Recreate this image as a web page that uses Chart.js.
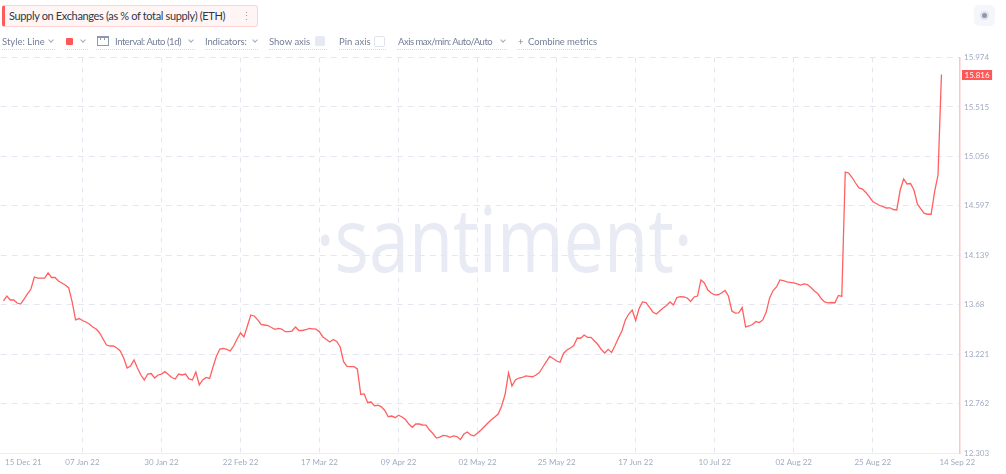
<!DOCTYPE html>
<html>
<head>
<meta charset="utf-8">
<script src="https://cdn.jsdelivr.net/npm/chart.js@4.4.1/dist/chart.umd.min.js"></script>
<style>
  html, body { margin: 0; padding: 0; background: #ffffff; }
  body { width: 1006px; height: 474px; position: relative; overflow: hidden; font-family: 'Lato', sans-serif; }
  #wm { position: absolute; left: 0; width: 1006px; top: 192px; text-align: center; font-family: 'Open Sans', sans-serif; font-weight: 400; font-size: 90px; line-height: 1; color: #e8ebf4; transform: scaleX(0.8); transform-origin: 509px 0; white-space: nowrap; }
  #chartWrap { position: absolute; left: 0; top: 0; width: 1006px; height: 474px; }
  .title { position: absolute; left: 2px; top: 5px; width: 248px; height: 20px; border: 1px solid #ffd3d3; border-left: 3px solid #ff5b5b; border-radius: 3px; background: #fff5f5; font-size: 11px; letter-spacing: -0.35px; line-height: 20px; color: #2f3747; padding-left: 4px; box-sizing: content-box; white-space: nowrap; }
  .dots { position: absolute; left: 236px; top: 0; color: #9aa3b8; font-size: 11px; letter-spacing: 0; }
  .tb { position: absolute; top: 35px; height: 14px; font-size: 9.5px; line-height: 13px; color: #737d96; white-space: nowrap; }
  .ul { position: absolute; top: 49px; height: 0; border-top: 1px dotted #d4d9e4; }
  .chev { position: absolute; top: 38px; width: 3px; height: 3px; border-right: 1px solid #a3abbf; border-bottom: 1px solid #a3abbf; transform: rotate(45deg); }
  .sq { position: absolute; left: 66px; top: 38px; width: 7px; height: 7px; background: #ff5656; border-radius: 1px; }
  .cal { position: absolute; left: 97px; top: 36px; width: 10px; height: 7px; border: 1px solid #8f99ae; border-top-width: 2px; }
  .cal i { position: absolute; top: -1px; width: 1px; height: 3px; background: #8f99ae; }
  .cb { position: absolute; top: 36px; width: 10px; height: 10px; border-radius: 2px; }
  .icon { position: absolute; left: 974px; top: 5px; width: 21px; height: 21px; border-radius: 5px; background: #f4f6fa; }
  .icon b { position: absolute; left: 6px; top: 6px; width: 9px; height: 9px; border-radius: 50%; background: #dfe3ec; }
  .icon b::after { content: ''; position: absolute; left: 2px; top: 2px; width: 5px; height: 5px; border-radius: 50%; background: #8e98b0; }
</style>
</head>
<body>
<div id="wm">·santiment·</div>
<div id="chartWrap"><canvas id="c" width="1006" height="474"></canvas></div>

<div class="title">Supply on Exchanges (as % of total supply) (ETH)<span class="dots">⋮</span></div>
<div class="icon"><b></b></div>

<div class="tb" style="left:2px">Style: Line</div><div class="chev" style="left:49px"></div>
<div class="ul" style="left:2px;width:53px"></div>
<div class="sq"></div><div class="chev" style="left:81px"></div>
<div class="ul" style="left:65px;width:23px"></div>
<div class="cal"><i style="left:2px"></i><i style="left:6px"></i></div>
<div class="tb" style="left:115px;letter-spacing:-0.45px">Interval: Auto (1d)</div><div class="chev" style="left:189px"></div>
<div class="ul" style="left:96px;width:99px"></div>
<div class="tb" style="left:205px;letter-spacing:-0.15px">Indicators:</div><div class="chev" style="left:253px"></div>
<div class="ul" style="left:205px;width:53px"></div>
<div class="tb" style="left:269px">Show axis</div>
<div class="cb" style="left:315px;background:#e6e9f2"></div>
<div class="ul" style="left:269px;width:58px"></div>
<div class="tb" style="left:339px">Pin axis</div>
<div class="cb" style="left:374px;border:1px solid #dfe3ec;width:9px;height:9px;background:#fff"></div>
<div class="ul" style="left:339px;width:47px"></div>
<div class="tb" style="left:398px;letter-spacing:-0.5px">Axis max/min: Auto/Auto</div><div class="chev" style="left:501px"></div>
<div class="ul" style="left:397px;width:110px"></div>
<div class="tb" style="left:518px;letter-spacing:-0.1px">+&nbsp; Combine metrics</div>
<div class="ul" style="left:517px;width:79px"></div>

<script>
// ---------------- data ----------------
// daily values, 15 Dec 2021 (index 0) .. 14 Sep 2022 (index 273)
const supplyPct = [
  13.714, 13.760, 13.723, 13.723, 13.695, 13.686, 13.732, 13.779, 13.825, 13.937,
  13.927, 13.927, 13.927, 13.974, 13.932, 13.932, 13.899, 13.881, 13.862, 13.835,
  13.705, 13.538, 13.551, 13.533, 13.519, 13.500, 13.473, 13.454, 13.417, 13.361,
  13.305, 13.296, 13.296, 13.278, 13.250, 13.185, 13.092, 13.111, 13.166, 13.092,
  13.027, 12.981, 13.036, 13.041, 12.999, 13.027, 13.036, 13.058, 13.032, 13.004,
  12.990, 13.036, 13.027, 13.036, 12.990, 12.981, 13.055, 12.934, 12.981, 13.004,
  12.995, 13.101, 13.203, 13.268, 13.273, 13.264, 13.250, 13.296, 13.361, 13.417,
  13.380, 13.482, 13.584, 13.575, 13.538, 13.496, 13.491, 13.486, 13.468, 13.451,
  13.459, 13.454, 13.429, 13.429, 13.435, 13.473, 13.440, 13.440, 13.447, 13.460,
  13.456, 13.452, 13.426, 13.380, 13.357, 13.333, 13.357, 13.338, 13.287, 13.150,
  13.106, 13.104, 13.104, 13.083, 12.846, 12.851, 12.772, 12.776, 12.741, 12.746,
  12.732, 12.698, 12.640, 12.646, 12.631, 12.653, 12.637, 12.614, 12.572, 12.542,
  12.572, 12.572, 12.563, 12.561, 12.516, 12.484, 12.442, 12.451, 12.467, 12.461,
  12.449, 12.461, 12.456, 12.428, 12.479, 12.498, 12.470, 12.463, 12.489, 12.516,
  12.549, 12.581, 12.612, 12.637, 12.665, 12.739, 12.846, 13.046, 12.925, 12.981,
  12.999, 13.004, 13.018, 13.015, 13.011, 13.027, 13.050, 13.101, 13.152, 13.199,
  13.180, 13.157, 13.145, 13.227, 13.259, 13.278, 13.301, 13.370, 13.368, 13.398,
  13.377, 13.377, 13.343, 13.310, 13.264, 13.231, 13.265, 13.236, 13.301, 13.370,
  13.435, 13.538, 13.593, 13.630, 13.533, 13.644, 13.705, 13.700, 13.658, 13.612,
  13.593, 13.621, 13.649, 13.672, 13.705, 13.677, 13.746, 13.754, 13.751, 13.742,
  13.709, 13.751, 13.760, 13.909, 13.881, 13.816, 13.788, 13.771, 13.772, 13.788,
  13.811, 13.760, 13.621, 13.602, 13.604, 13.654, 13.473, 13.482, 13.496, 13.523,
  13.514, 13.538, 13.612, 13.742, 13.811, 13.844, 13.909, 13.904, 13.892, 13.887,
  13.883, 13.872, 13.862, 13.872, 13.867, 13.839, 13.807, 13.783, 13.737, 13.705,
  13.697, 13.700, 13.698, 13.765, 13.756, 14.911, 14.902, 14.860, 14.809, 14.763,
  14.753, 14.721, 14.682, 14.637, 14.619, 14.600, 14.589, 14.577, 14.579, 14.563,
  14.559, 14.744, 14.846, 14.800, 14.804, 14.744, 14.614, 14.568, 14.526, 14.519,
  14.519, 14.726, 14.883, 15.816
];
const xTickDays   = [0, 23, 46, 69, 92, 115, 138, 161, 184, 207, 230, 253, 273];
const xTickLabels = ['15 Dec 21', '07 Jan 22', '30 Jan 22', '22 Feb 22', '17 Mar 22', '09 Apr 22',
                     '02 May 22', '25 May 22', '17 Jun 22', '10 Jul 22', '02 Aug 22', '25 Aug 22', '14 Sep 22'];
const yTicks      = [12.303, 12.762, 13.221, 13.68, 14.139, 14.597, 15.056, 15.515, 15.974];
const yTickLabels = ['12.303', '12.762', '13.221', '13.68', '14.139', '14.597', '15.056', '15.515', '15.974'];

// ---------------- styles ----------------
const LINE_COLOR = '#ff6060';
const GRID_COLOR = '#e4e7f0';
const TICK_COLOR = '#a2abc0';
const X_MIN = -0.79, X_MAX = 278.4;
const EDGE_LABEL_SHIFT = [5.8, 4.6]; // edge labels sit inside the axis, as in the app

const lastValueBadge = {
  id: 'lastValueBadge',
  afterDraw(chart) {
    const ys = chart.scales.y;
    const v = supplyPct[supplyPct.length - 1];
    const y = ys.getPixelForValue(v);
    const ctx = chart.ctx;
    ctx.save();
    ctx.font = '8px Lato';
    const txt = v.toFixed(3);
    const w = ctx.measureText(txt).width + 5;
    ctx.fillStyle = '#ff5757';
    ctx.fillRect(ys.left + 2, Math.round(y) - 5, w, 10);
    ctx.fillStyle = '#ffffff';
    ctx.textBaseline = 'middle';
    ctx.fillText(txt, ys.left + 4.5, Math.round(y) + 0.5);
    ctx.restore();
  }
};

Chart.defaults.font.family = 'Lato';

new Chart(document.getElementById('c'), {
  type: 'line',
  data: {
    datasets: [{
      data: supplyPct.map((v, i) => ({ x: i, y: v })),
      borderColor: LINE_COLOR,
      borderWidth: 1.3,
      pointRadius: 0,
      tension: 0,
      fill: false
    }]
  },
  options: {
    responsive: false,
    animation: false,
    parsing: false,
    layout: { padding: { top: 57.5, left: 0, right: 0, bottom: 0 } },
    plugins: { legend: { display: false }, tooltip: { enabled: false } },
    scales: {
      x: {
        type: 'linear',
        min: X_MIN, max: X_MAX,
        afterBuildTicks(scale) {
          const n = xTickDays.length;
          scale.ticks = xTickDays.map((d, i) => ({
            value: d + (i === 0 ? EDGE_LABEL_SHIFT[0] : (i === n - 1 ? EDGE_LABEL_SHIFT[1] : 0))
          }));
        },
        afterFit(scale) { scale.height = 21; },
        ticks: {
          autoSkip: false, maxRotation: 0, padding: 5,
          color: TICK_COLOR, font: { size: 8 },
          callback: (v, i) => xTickLabels[i]
        },
        grid: {
          drawTicks: false,
          color: ctx => (ctx.index === 0 || ctx.index === xTickDays.length - 1) ? 'rgba(0,0,0,0)' : GRID_COLOR,
          lineWidth: 1
        },
        border: { display: true, color: '#eceef4', width: 1, dash: [5, 5] }
      },
      y: {
        position: 'right',
        min: yTicks[0], max: yTicks[yTicks.length - 1],
        afterBuildTicks(scale) { scale.ticks = yTicks.map(v => ({ value: v })); },
        afterFit(scale) { scale.width = 46; },
        ticks: {
          padding: 4, color: TICK_COLOR, font: { size: 8 },
          callback: (v, i) => yTickLabels[i]
        },
        grid: { drawTicks: false, color: GRID_COLOR, lineWidth: 1 },
        border: { display: true, color: '#ffc4c4', width: 1.5, dash: [6, 5] }
      }
    }
  },
  plugins: [lastValueBadge]
});
</script>
</body>
</html>
